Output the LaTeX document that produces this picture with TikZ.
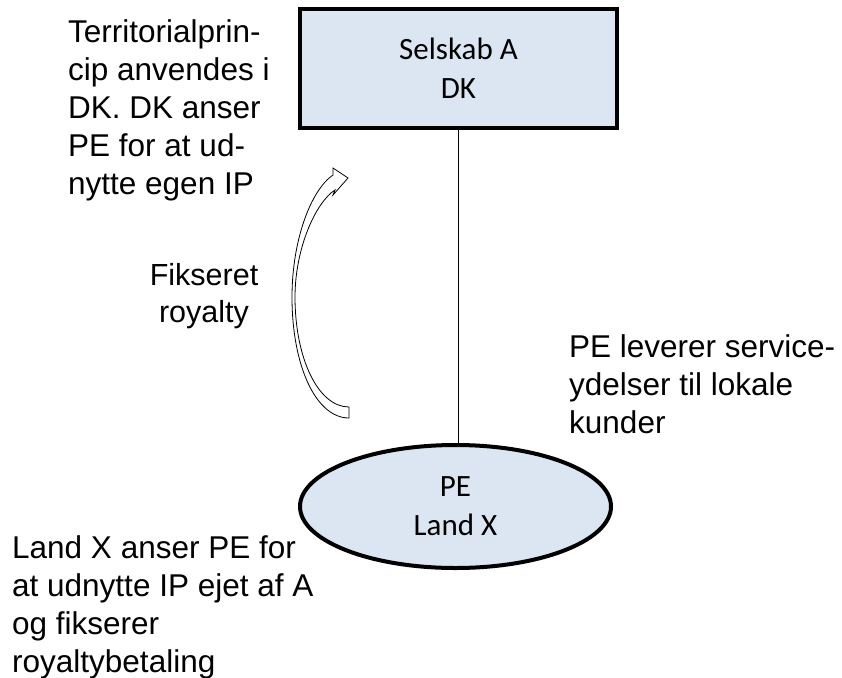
\documentclass[tikz,border=0pt]{standalone}
\usepackage{fontspec}
\setmainfont{Liberation Sans}
\newfontfamily\calibrifont{Carlito}
\usetikzlibrary{shapes.geometric}
\definecolor{boxblue}{HTML}{DCE6F2}
\tikzset{
  txt/.style={inner sep=0pt, font=\fontsize{31.5}{38}\selectfont},
  smalltxt/.style={inner sep=0pt, font=\fontsize{30.5}{37}\selectfont},
  entity/.style={draw=black, line width=4pt, fill=boxblue, inner sep=0pt,
    font=\calibrifont\fontsize{31}{39}\selectfont, align=center},
  blockarrow/.style={draw=black, line width=0.8pt, fill=white, line join=miter}
}
\begin{document}
\begin{tikzpicture}[x=1pt,y=-1pt]
\useasboundingbox (0,0) rectangle (842,677);
\node[entity, rectangle, minimum width=317pt, minimum height=119pt] (A) at (458.5,68.5) {Selskab A\\DK};
\node[entity, ellipse, minimum width=311pt, minimum height=123pt] (PE) at (455.5,506.5) {PE\\Land X};
\draw[line width=1.2pt] (A.south) -- (A.south |- PE.north);
% curved block arrow
\draw[blockarrow] (349,418) .. controls (316,418) and (292,366) .. (292,297)
  .. controls (292,240) and (311,190) .. (333,175)
  -- (333,168) -- (348,178) -- (333,195) -- (335,190)
  .. controls (316,202) and (295,248) .. (295,297)
  .. controls (295,358) and (318,407) .. (349,407) -- cycle;
\node[txt, anchor=base west] (t1) at (68,42) {\begin{tabular}[t]{@{}l@{}}Territorialprin-\\cip anvendes i\\DK. DK anser\\PE for at ud-\\nytte egen IP\end{tabular}};
\node[smalltxt, anchor=base] (t2) at (204,285) {\begin{tabular}[t]{@{}c@{}}Fikseret\\royalty\end{tabular}};
\node[txt, anchor=base west] (t3) at (569,357) {\begin{tabular}[t]{@{}l@{}}PE leverer service-\\ydelser til lokale\\kunder\end{tabular}};
\node[txt, anchor=base west] (t4) at (12,558) {\begin{tabular}[t]{@{}l@{}}Land X anser PE for\\at udnytte IP ejet af A\\og fikserer\\royaltybetaling\end{tabular}};
\end{tikzpicture}
\end{document}
